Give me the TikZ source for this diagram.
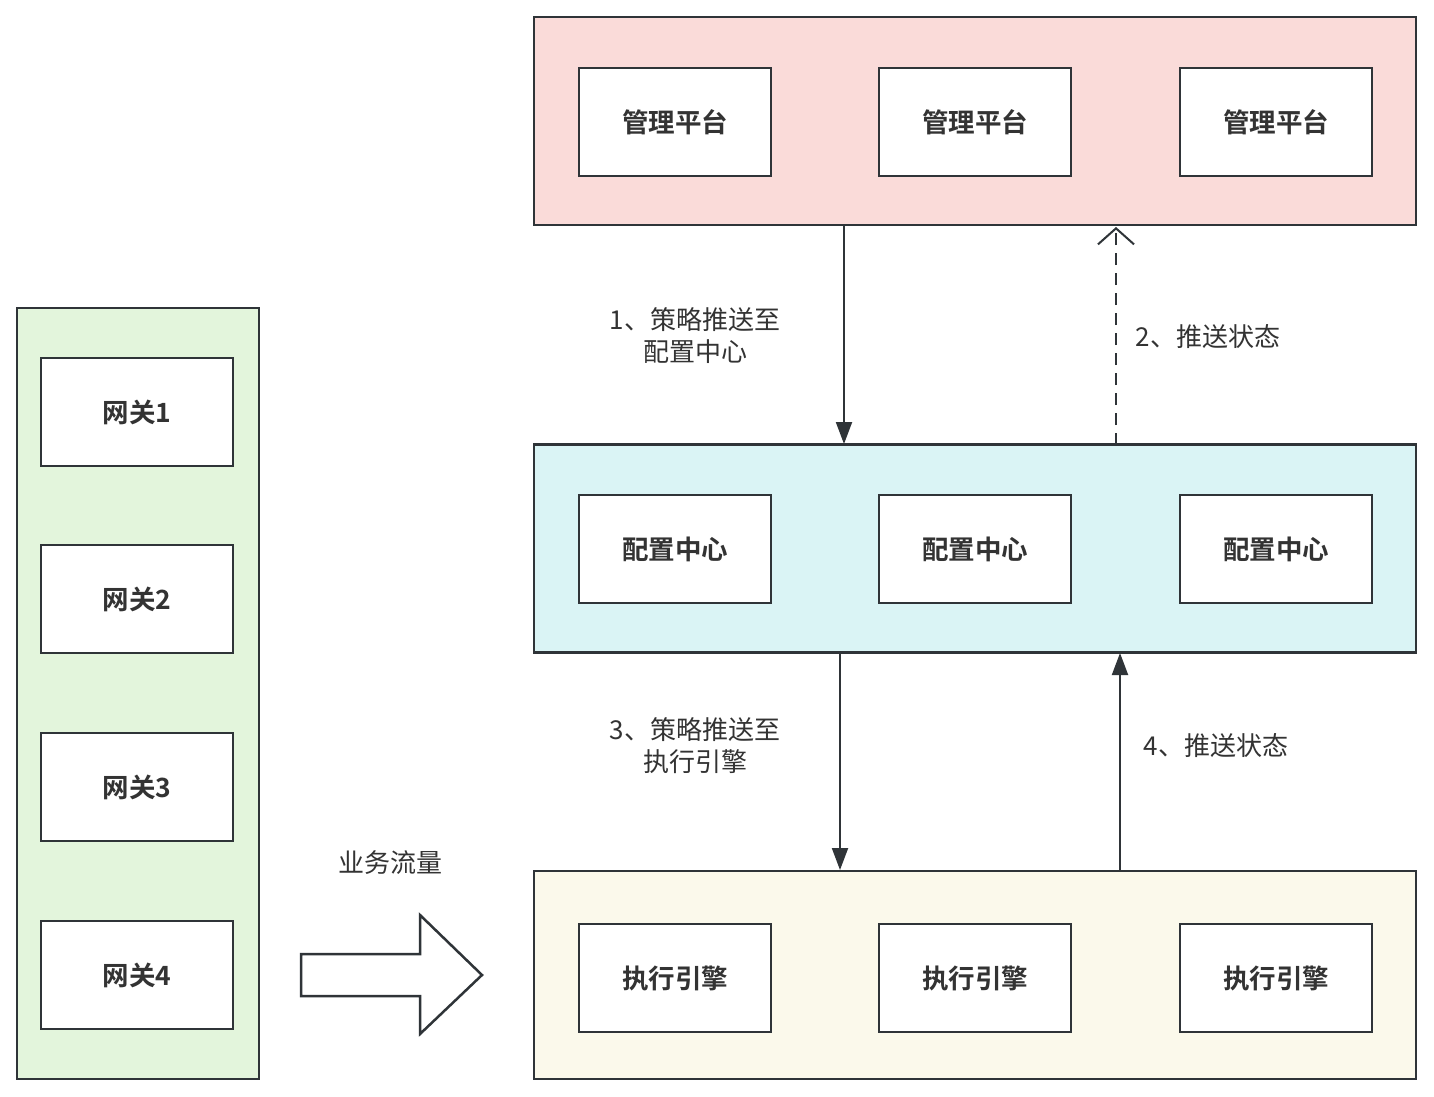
\documentclass[tikz,border=0pt]{standalone}
\usepackage{fontspec}
\setmainfont{Noto Sans CJK SC}[BoldFont={Noto Sans CJK SC Bold}]
\usetikzlibrary{arrows.meta}
\definecolor{ln}{HTML}{2F3438}
\definecolor{txt}{HTML}{333333}
\definecolor{pinkf}{HTML}{FADBD9}
\definecolor{cyanf}{HTML}{DAF4F5}
\definecolor{yelf}{HTML}{FBF9EB}
\definecolor{grnf}{HTML}{E3F5DC}
\tikzset{
  cont/.style={draw=ln,line width=2.5pt,minimum width=882pt,minimum height=208pt,inner sep=0pt},
  item/.style={draw=ln,fill=white,line width=2.5pt,minimum width=192pt,minimum height=108pt,inner sep=0pt,font=\fontsize{26.5}{30}\selectfont\bfseries,text=txt},
  lbl/.style={font=\fontsize{26}{32}\selectfont,text=txt,align=center,inner sep=0pt},
  conn/.style={draw=ln,line width=2pt,-{Triangle[length=22pt,width=16pt]}},
  dconn/.style={draw=ln,line width=2pt,dash pattern=on 12pt off 8pt,-{Straight Barb[length=16pt,width=36pt,line width=2pt]}},
}
\begin{document}
\begin{tikzpicture}[x=1pt,y=-1pt]
\useasboundingbox[fill=white] (0,0) rectangle (1434,1096);
% containers
\node[cont,fill=pinkf] (top) at (975,121) {};
\node[cont,fill=cyanf] (mid) at (975,548.5) {};
\node[cont,fill=yelf] (bot) at (975,975) {};
\node[draw=ln,fill=grnf,line width=2.5pt,minimum width=242pt,minimum height=771pt,inner sep=0pt] (left) at (138,693.5) {};
% top boxes
\node[item] (t1) at (675,122) {管理平台};
\node[item] (t2) at (975,122) {管理平台};
\node[item] (t3) at (1276,122) {管理平台};
\node[item] (m1) at (675,549) {配置中心};
\node[item] (m2) at (975,549) {配置中心};
\node[item] (m3) at (1276,549) {配置中心};
\node[item] (b1) at (675,978) {执行引擎};
\node[item] (b2) at (975,978) {执行引擎};
\node[item] (b3) at (1276,978) {执行引擎};
% gateways
\node[item] (g1) at (137,412) {网关1};
\node[item] (g2) at (137,599) {网关2};
\node[item] (g3) at (137,787) {网关3};
\node[item] (g4) at (137,975) {网关4};
% connectors
\coordinate (a1s) at (844,225);
\coordinate (a1e) at (844,444);
\draw[conn] (a1s) -- (a1e);
\coordinate (a2s) at (1116,445);
\coordinate (a2e) at (1116,227);
\draw[dconn] (a2s) -- (a2e);
\coordinate (a3s) at (840,652);
\coordinate (a3e) at (840,870);
\draw[conn] (a3s) -- (a3e);
\coordinate (a4s) at (1120,871);
\coordinate (a4e) at (1120,653);
\draw[conn] (a4s) -- (a4e);
% labels
\node[lbl] (l1) at (695,336) {1、策略推送至\\配置中心};
\node[lbl] (l2) at (1208,337) {2、推送状态};
\node[lbl] (l3) at (695,746) {3、策略推送至\\执行引擎};
\node[lbl] (l4) at (1216,746) {4、推送状态};
\node[lbl] (l5) at (390,863) {业务流量};
% big arrow
\draw[ln,fill=white,line width=2.5pt,line join=miter] (301,954) -- (420,954) -- (420,915) -- (482,975) -- (420,1034) -- (420,996) -- (301,996) -- cycle;
\end{tikzpicture}
\end{document}
